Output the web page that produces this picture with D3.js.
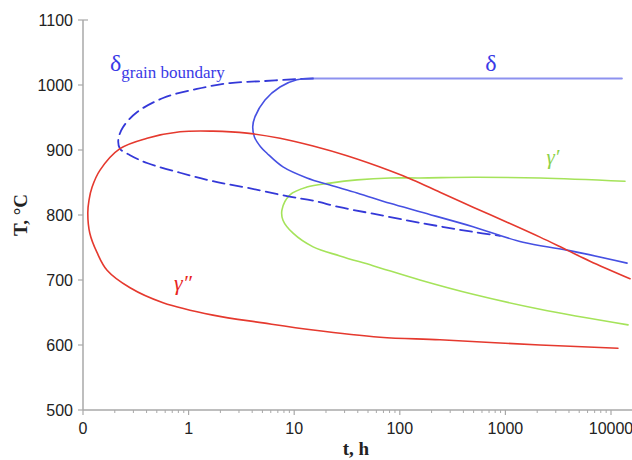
<!DOCTYPE html>
<html>
<head>
<meta charset="utf-8">
<script src="https://cdn.jsdelivr.net/npm/d3@7"></script>
<style>
  body { margin: 0; background: #fff; }
  svg { display: block; }
</style>
</head>
<body>
<div id="chart"></div>
<script>
// Tick values / labels (x is log time in hours, "0" sits at 0.1 h)
const xTickValues = [0.1, 1, 10, 100, 1000, 10000];
const xTickLabels = ["0", "1", "10", "100", "1000", "10000"];
const yTickValues = [500, 600, 700, 800, 900, 1000, 1100];

// gamma'' C-curve, [t (h), T (degC)], upper right end -> nose -> lower right end
const gammaDD = [
    [15140, 702], [6320, 729], [3830, 746], [2128, 766], [1036, 789], [494, 812],
    [240, 835], [133, 854], [80.8, 868], [31.6, 891], [15.1, 906], [7.34, 918],
    [3.57, 926], [1.70, 929], [0.83, 928], [0.404, 918], [0.224, 902], [0.145, 869],
    [0.122, 843], [0.114, 823], [0.111, 803], [0.116, 772], [0.136, 742], [0.169, 715],
    [0.279, 688], [0.573, 665], [1.70, 646], [5.07, 634], [15.1, 623], [65, 612],
    [240, 608], [2128, 600], [11640, 595]
];

// gamma' C-curve
const gammaD = [
    [13580, 852], [2128, 857], [494, 858], [155, 857], [80.8, 857], [39.4, 854],
    [21.8, 849], [13.2, 843], [9.12, 831], [7.66, 808], [7.83, 792], [9.75, 772],
    [15.1, 751], [27.1, 737], [55.7, 722], [155, 700], [494, 678], [2128, 655],
    [14500, 631]
];

// delta solvus (flat part)
const deltaSolvus = [[15.1, 1010], [12700, 1010]];

// delta C-curve (intragranular)
const delta = [
    [15.1, 1010], [10.6, 1008], [7.34, 997], [5.29, 977], [4.25, 951], [4.05, 936],
    [4.2, 920], [4.8, 905], [5.52, 895], [7.83, 874], [13.2, 857], [21.8, 846],
    [39.4, 834], [80.8, 818], [155, 805], [494, 782], [1468, 758], [3830, 746],
    [14190, 726]
];

// delta on grain boundaries (dashed)
const deltaGB = [
    [15.1, 1010], [10.6, 1009], [5.07, 1006], [2.47, 1003], [1.20, 994], [0.573, 980],
    [0.324, 958], [0.239, 935], [0.216, 916], [0.224, 902], [0.279, 892], [0.404, 880],
    [0.83, 865], [1.70, 852], [3.57, 842], [8.55, 829], [15.1, 822], [27.1, 812],
    [55.7, 802], [155, 788], [494, 774], [889, 768]
];

const W = 632, H = 460;
const margin = { top: 20, left: 83, bottom: 50 };
const decade = 105.6;

const svg = d3.select("#chart").append("svg")
    .attr("width", W)
    .attr("height", H);

const x = d3.scaleLog()
    .domain([0.1, 16000])
    .range([margin.left, margin.left + Math.log10(160000) * decade]);

const y = d3.scaleLinear()
    .domain([500, 1100])
    .range([410, margin.top]);

// minor ticks for the log axis
const minorTicks = [];
for (let p = -1; p <= 4; p++) {
    for (let m = 2; m <= 9; m++) {
        const v = m * Math.pow(10, p);
        if (v <= 16000) minorTicks.push(v);
    }
}

// --- x axis ---
const xAxis = svg.append("g")
    .attr("transform", `translate(0,${y(500)})`);

xAxis.append("line")
    .attr("x1", x(0.1)).attr("x2", W)
    .attr("stroke", "#a8a8a8").attr("stroke-width", 1.5);

xAxis.selectAll(".minor").data(minorTicks).join("line")
    .attr("class", "minor")
    .attr("x1", d => x(d)).attr("x2", d => x(d))
    .attr("y1", 0).attr("y2", 3)
    .attr("stroke", "#a8a8a8").attr("stroke-width", 1);

xAxis.selectAll(".major").data(xTickValues).join("line")
    .attr("class", "major")
    .attr("x1", d => x(d)).attr("x2", d => x(d))
    .attr("y1", 0).attr("y2", 5)
    .attr("stroke", "#a8a8a8").attr("stroke-width", 1.2);

xAxis.selectAll(".lbl").data(xTickValues).join("text")
    .attr("class", "lbl")
    .attr("x", d => x(d))
    .attr("y", 24)
    .attr("text-anchor", "middle")
    .attr("font-family", "Liberation Sans, Arial, sans-serif")
    .attr("font-size", "16px")
    .attr("fill", "#222")
    .text((d, i) => xTickLabels[i]);

// --- y axis ---
const yAxis = svg.append("g")
    .attr("transform", `translate(${margin.left},0)`);

yAxis.append("line")
    .attr("y1", y(1100)).attr("y2", y(500))
    .attr("stroke", "#a8a8a8").attr("stroke-width", 1.5);

yAxis.selectAll(".tick").data(yTickValues).join("line")
    .attr("class", "tick")
    .attr("x1", -5).attr("x2", d => d === 1100 ? 5 : 0)
    .attr("y1", d => y(d)).attr("y2", d => y(d))
    .attr("stroke", "#a8a8a8").attr("stroke-width", 1.2);

yAxis.selectAll(".lbl").data(yTickValues).join("text")
    .attr("class", "lbl")
    .attr("x", -10)
    .attr("y", d => y(d) + 6)
    .attr("text-anchor", "end")
    .attr("font-family", "Liberation Sans, Arial, sans-serif")
    .attr("font-size", "16px")
    .attr("fill", "#222")
    .text(d => d);

// axis titles
svg.append("text")
    .attr("transform", `translate(27,${y(800)}) rotate(-90)`)
    .attr("text-anchor", "middle")
    .attr("font-family", "Liberation Serif, Times New Roman, serif")
    .attr("font-weight", "bold")
    .attr("font-size", "19px")
    .attr("fill", "#222")
    .text("T, °C");

svg.append("text")
    .attr("x", 356)
    .attr("y", 455)
    .attr("text-anchor", "middle")
    .attr("font-family", "Liberation Serif, Times New Roman, serif")
    .attr("font-weight", "bold")
    .attr("font-size", "19px")
    .attr("fill", "#222")
    .text("t, h");

// --- curves ---
const line = d3.line()
    .x(d => x(d[0]))
    .y(d => y(d[1]))
    .curve(d3.curveCatmullRom.alpha(0.5));

function drawCurve(data, color, width, dash) {
    svg.append("path")
        .datum(data)
        .attr("d", line)
        .attr("fill", "none")
        .attr("stroke", color)
        .attr("stroke-width", width)
        .attr("stroke-linecap", "round")
        .attr("stroke-dasharray", dash || null);
}

drawCurve(gammaD, "#a5e35a", 1.6);
drawCurve(deltaGB, "#3438d8", 1.8, "12,6");
drawCurve(deltaSolvus, "#8d92ef", 1.8);
drawCurve(delta, "#4650e2", 1.6);
drawCurve(gammaDD, "#e5392e", 1.6);

// --- curve labels ---
const serif = "Liberation Serif, Times New Roman, serif";

const gbLabel = svg.append("text")
    .attr("x", 110)
    .attr("y", 71)
    .attr("font-family", serif)
    .attr("fill", "#3a3ae6");
gbLabel.append("tspan").attr("font-size", "24px").text("δ");
gbLabel.append("tspan").attr("font-size", "17px").attr("dy", 7).text("grain boundary");

svg.append("text")
    .attr("x", 491)
    .attr("y", 71)
    .attr("text-anchor", "middle")
    .attr("font-family", serif)
    .attr("font-size", "24px")
    .attr("fill", "#3a3ae6")
    .text("δ");

svg.append("text")
    .attr("x", 553)
    .attr("y", 164)
    .attr("text-anchor", "middle")
    .attr("font-family", serif)
    .attr("font-style", "italic")
    .attr("font-size", "21px")
    .attr("fill", "#8cd24a")
    .text("γ′");

svg.append("text")
    .attr("x", 183)
    .attr("y", 290)
    .attr("text-anchor", "middle")
    .attr("font-family", serif)
    .attr("font-style", "italic")
    .attr("font-size", "22px")
    .attr("fill", "#e8261e")
    .text("γ″");
</script>
</body>
</html>
